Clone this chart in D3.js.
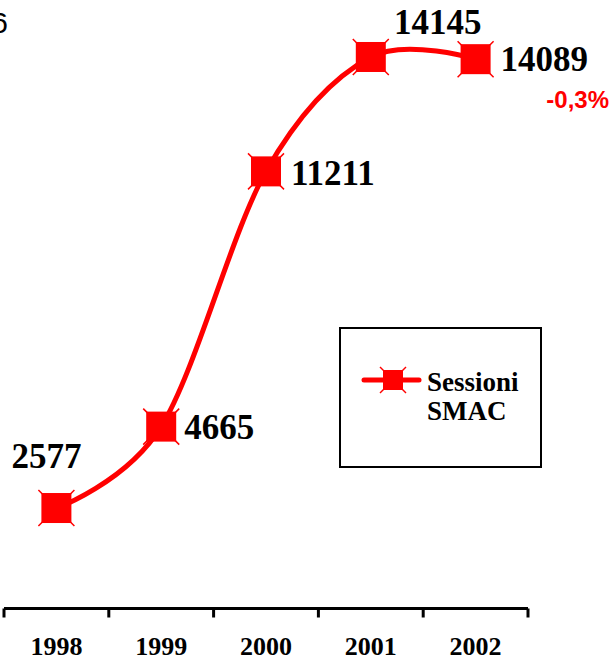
<!DOCTYPE html>
<html><head><meta charset="utf-8">
<script src="https://cdn.jsdelivr.net/npm/d3@7"></script>
<style>
html,body{margin:0;padding:0;background:#fff;}
svg{display:block;}
</style></head>
<body>
<script>
const years = ["1998","1999","2000","2001","2002"];
const sessioni = [2577, 4665, 11211, 14145, 14089];
const valueLabels = ["2577","4665","11211","14145","14089"];
const seriesName = ["Sessioni","SMAC"];
const changeLabel = "-0,3%";

const W = 611, H = 659;
const svg = d3.select("body").append("svg").attr("width", W).attr("height", H);

const x = d3.scaleBand().domain(years).range([4, 528]).padding(0);
const y = d3.scaleLinear().domain([0, 16000]).range([608.5, 608.5 - 16000 * 0.03899]);
const cx = d => x(d) + x.bandwidth() / 2;

// Axis
const gAxis = svg.append("g").attr("transform", "translate(0,608.5)");
gAxis.append("line").attr("x1", 4).attr("x2", 528).attr("y1", 0).attr("y2", 0)
  .attr("stroke", "#000").attr("stroke-width", 3);
const tickXs = years.map(d => x(d)).concat([x(years[years.length - 1]) + x.bandwidth()]);
gAxis.selectAll("line.tk").data(tickXs).enter().append("line").attr("class", "tk")
  .attr("x1", d => d).attr("x2", d => d).attr("y1", 0).attr("y2", 9)
  .attr("stroke", "#000").attr("stroke-width", 3);
gAxis.selectAll("text.yl").data(years).enter().append("text").attr("class", "yl")
  .attr("x", d => cx(d)).attr("y", 46)
  .attr("text-anchor", "middle")
  .attr("font-family", "'Liberation Serif','Times New Roman',serif")
  .attr("font-weight", "bold").attr("font-size", 26)
  .text(d => d);

// Line
const pts = years.map((d, i) => [cx(d), y(sessioni[i])]);
const line = d3.line().curve(d3.curveCardinal.tension(0));
svg.append("path").attr("d", line(pts)).attr("fill", "none")
  .attr("stroke", "#ff0000").attr("stroke-width", 5).attr("stroke-linejoin", "round");

function marker(g, px, py, s) {
  const h = s / 2, e = h + 3;
  g.append("line").attr("x1", px - e).attr("y1", py - e).attr("x2", px + e).attr("y2", py + e)
    .attr("stroke", "#ff0000").attr("stroke-width", 1.5);
  g.append("line").attr("x1", px - e).attr("y1", py + e).attr("x2", px + e).attr("y2", py - e)
    .attr("stroke", "#ff0000").attr("stroke-width", 1.5);
  g.append("rect").attr("x", px - h).attr("y", py - h).attr("width", s).attr("height", s)
    .attr("fill", "#ff0000");
}
const gm = svg.append("g");
pts.forEach(p => marker(gm, p[0], p[1], 30));

// Value labels
const labelOffsets = [[-10, -40, "middle"], [23, 12, "start"], [25, 14, "start"], [67, -23, "middle"], [25, 12, "start"]];
svg.selectAll("text.vl").data(valueLabels).enter().append("text").attr("class", "vl")
  .attr("x", (d, i) => pts[i][0] + labelOffsets[i][0])
  .attr("y", (d, i) => pts[i][1] + labelOffsets[i][1])
  .attr("text-anchor", (d, i) => labelOffsets[i][2])
  .attr("font-family", "'Liberation Serif','Times New Roman',serif")
  .attr("font-weight", "bold").attr("font-size", 35)
  .text(d => d);

// Change label
svg.append("text").attr("x", 609).attr("y", 108).attr("text-anchor", "end")
  .attr("font-family", "'Liberation Sans',Arial,sans-serif")
  .attr("font-weight", "bold").attr("font-size", 24).attr("fill", "#ff0000")
  .text(changeLabel);

// Clipped text at top-left
svg.append("text").attr("x", 8).attr("y", 33).attr("text-anchor", "end")
  .attr("font-family", "'Liberation Sans',Arial,sans-serif")
  .attr("font-size", 30).attr("fill", "#000").text("6");

// Legend
const lg = svg.append("g");
lg.append("rect").attr("x", 340).attr("y", 328).attr("width", 201).attr("height", 139)
  .attr("fill", "#fff").attr("stroke", "#000").attr("stroke-width", 2);
lg.append("line").attr("x1", 364).attr("x2", 419).attr("y1", 380).attr("y2", 380)
  .attr("stroke", "#ff0000").attr("stroke-width", 5).attr("stroke-linecap", "round");
marker(lg, 393, 380, 20);
lg.selectAll("text").data(seriesName).enter().append("text")
  .attr("x", 427).attr("y", (d, i) => 391 + i * 29)
  .attr("font-family", "'Liberation Serif','Times New Roman',serif")
  .attr("font-weight", "bold").attr("font-size", 27)
  .text(d => d);
</script>
</body></html>
